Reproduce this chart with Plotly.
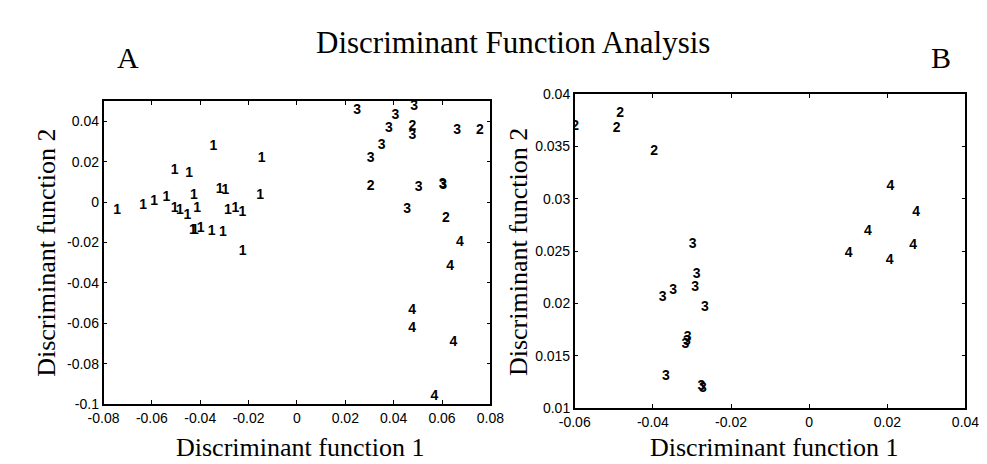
import plotly.graph_objects as go

# ---------------- Panel A data ----------------
a_g1_x = [-0.0744, -0.0636, -0.0591, -0.0540, -0.0506, -0.0484, -0.0453, -0.0413, -0.0426,
          -0.0506, -0.0446, -0.0346, -0.0320, -0.0296, -0.0146, -0.0152, -0.0286, -0.0254,
          -0.0226, -0.0430, -0.0422, -0.0398, -0.0353, -0.0306, -0.0224]
a_g1_y = [-0.0042, -0.0018, 0.0005, 0.0022, -0.0033, -0.0042, -0.0065, -0.0033, 0.0030,
          0.0158, 0.0142, 0.0277, 0.0060, 0.0055, 0.0214, 0.0030, -0.0042, -0.0033,
          -0.0053, -0.0139, -0.0143, -0.0131, -0.0145, -0.0153, -0.0244]
a_g2_x = [0.0478, 0.0757, 0.0305, 0.0616]
a_g2_y = [0.0373, 0.0352, 0.0076, -0.0080]
a_g3_x = [0.0249, 0.0407, 0.0485, 0.0380, 0.0478, 0.0663, 0.0350, 0.0305, 0.0503, 0.0605, 0.0603, 0.0456]
a_g3_y = [0.0454, 0.0427, 0.0473, 0.0363, 0.0330, 0.0354, 0.0280, 0.0214, 0.0072, 0.0081, 0.0085, -0.0038]
a_g4_x = [0.0674, 0.0634, 0.0476, 0.0476, 0.0647, 0.0569]
a_g4_y = [-0.0202, -0.0317, -0.0535, -0.0628, -0.0694, -0.0960]

# ---------------- Panel B data ----------------
b_g2_x = [-0.0599, -0.0484, -0.0493, -0.0397]
b_g2_y = [0.0369, 0.0382, 0.0367, 0.0345]
b_g3_x = [-0.0298, -0.0288, -0.0292, -0.0348, -0.0375, -0.0267, -0.0313, -0.0317, -0.0311,
          -0.0367, -0.0276, -0.0272]
b_g3_y = [0.0256, 0.0228, 0.0215, 0.0212, 0.0206, 0.0196, 0.0164, 0.0161, 0.0167,
          0.0130, 0.0121, 0.0119]
b_g4_x = [0.0208, 0.0274, 0.0150, 0.0101, 0.0266, 0.0206]
b_g4_y = [0.0312, 0.0287, 0.0269, 0.0248, 0.0255, 0.0241]

# ---------------- Tick labels ----------------
a_xticks = [-0.08, -0.06, -0.04, -0.02, 0, 0.02, 0.04, 0.06, 0.08]
a_xlabels = ["-0.08", "-0.06", "-0.04", "-0.02", "0", "0.02", "0.04", "0.06", "0.08"]
a_yticks = [-0.1, -0.08, -0.06, -0.04, -0.02, 0, 0.02, 0.04]
a_ylabels = ["-0.1", "-0.08", "-0.06", "-0.04", "-0.02", "0", "0.02", "0.04"]
b_xticks = [-0.06, -0.04, -0.02, 0, 0.02, 0.04]
b_xlabels = ["-0.06", "-0.04", "-0.02", "0", "0.02", "0.04"]
b_yticks = [0.01, 0.015, 0.02, 0.025, 0.03, 0.035, 0.04]
b_ylabels = ["0.01", "0.015", "0.02", "0.025", "0.03", "0.035", "0.04"]

title_text = "Discriminant Function Analysis"
x_title = "Discriminant function 1"
y_title = "Discriminant function 2"

fig = go.Figure()

pt_font = dict(family="Liberation Sans, Arial", size=14, color="black", weight="bold")


def add_group(xs, ys, label, xa, ya):
    fig.add_trace(go.Scatter(
        x=xs, y=ys, mode="text", text=[label] * len(xs),
        textposition="middle center", textfont=pt_font,
        xaxis=xa, yaxis=ya, showlegend=False, hoverinfo="x+y"))


add_group(a_g1_x, a_g1_y, "1", "x", "y")
add_group(a_g2_x, a_g2_y, "2", "x", "y")
add_group(a_g3_x, a_g3_y, "3", "x", "y")
add_group(a_g4_x, a_g4_y, "4", "x", "y")
add_group(b_g2_x, b_g2_y, "2", "x2", "y2")
add_group(b_g3_x, b_g3_y, "3", "x2", "y2")
add_group(b_g4_x, b_g4_y, "4", "x2", "y2")

W, H = 987, 464
tick_font = dict(family="Liberation Sans, Arial", size=14, color="black")
axis_common = dict(showgrid=False, zeroline=False, showline=True, linecolor="black",
                   linewidth=1.5, mirror="allticks", ticks="inside", ticklen=4,
                   tickcolor="black", tickwidth=1, tickfont=tick_font)

fig.update_layout(
    width=W, height=H, margin=dict(l=0, r=0, t=0, b=0),
    paper_bgcolor="white", plot_bgcolor="white",
    xaxis=dict(domain=[82 / W, 481 / W], range=[-0.08, 0.08], anchor="y",
               tickvals=a_xticks, ticktext=a_xlabels, **axis_common),
    yaxis=dict(domain=[1 - 402 / H, 1 - 88 / H], range=[-0.1, 0.05], anchor="x",
               tickvals=a_yticks, ticktext=a_ylabels, **axis_common),
    xaxis2=dict(domain=[568 / W, 971 / W], range=[-0.06, 0.04], anchor="y2",
                tickvals=b_xticks, ticktext=b_xlabels, **axis_common),
    yaxis2=dict(domain=[1 - 406 / H, 1 - 81 / H], range=[0.01, 0.04], anchor="x2",
                tickvals=b_yticks, ticktext=b_ylabels, **axis_common),
)

serif = "Liberation Serif, Times New Roman, serif"
ann = [
    dict(text=title_text, x=504 / W, y=1 - 27 / H, size=31, angle=0, ya="middle"),
    dict(text="A", x=107 / W, y=1 - 43 / H, size=30, angle=0, ya="middle"),
    dict(text="B", x=946 / W, y=1 - 43 / H, size=30, angle=0, ya="middle"),
    dict(text=x_title, x=285 / W, y=0, size=26, angle=0, ya="bottom"),
    dict(text=x_title, x=773 / W, y=0, size=26, angle=0, ya="bottom"),
    dict(text=y_title, x=23 / W, y=1 - 245 / H, size=26, angle=-90, ya="middle"),
    dict(text=y_title, x=510 / W, y=1 - 244 / H, size=26, angle=-90, ya="middle"),
]
for a in ann:
    fig.add_annotation(text=a["text"], x=a["x"], y=a["y"], xref="paper", yref="paper",
                       xanchor="center", yanchor=a["ya"], showarrow=False,
                       textangle=a["angle"], font=dict(family=serif, size=a["size"], color="black"))

fig.write_html("out.html")
